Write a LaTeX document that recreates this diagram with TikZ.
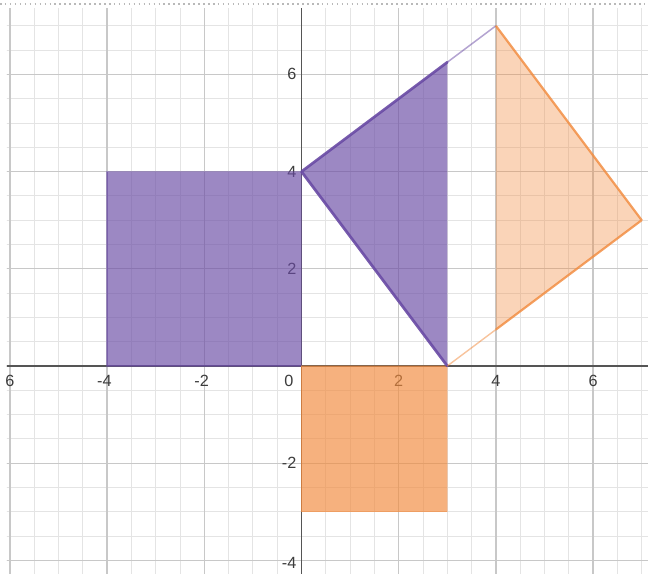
\documentclass[tikz,border=0pt]{standalone}
\usepackage{fontspec}
\setmainfont{Liberation Sans}
\definecolor{gminor}{RGB}{228,228,228}
\definecolor{gmajor}{RGB}{200,200,200}
\definecolor{axisc}{RGB}{85,85,85}
\definecolor{purp}{RGB}{106,75,165}
\definecolor{oran}{RGB}{242,138,60}
\definecolor{labc}{RGB}{60,60,60}
\begin{document}
\begin{tikzpicture}[x=1cm,y=1cm,
  lab/.style={font=\fontsize{9.5}{10}\selectfont, text=labc, inner sep=0pt},
  xlab/.style={lab, anchor=center},
  ylab/.style={lab, anchor=east},
  purpfill/.style={fill=purp, fill opacity=0.66},
  oranfill/.style={fill=oran, fill opacity=0.66},
  oranlight/.style={fill=oran, fill opacity=0.36},
  edgethick/.style={line width=1.6pt, line join=round, line cap=round}]
\useasboundingbox (-6.204,-4.280) rectangle (7.130,7.531);
\fill[white] (-6.204,-4.280) rectangle (7.130,7.531);
\draw[gray!55, dotted, line width=0.9pt] (-6.204,7.45) -- (7.130,7.45);
\begin{scope}
  \clip (-6.06,-4.28) rectangle (7.13,7.366);
  % grid
  \draw[gminor, line width=0.55pt, step=0.5] (-6.5,-4.5) grid (7.5,7.5);
  \draw[gmajor, line width=0.8pt, step=2] (-6.5,-4.5) grid (7.5,7.5);
  % axes
  \draw[axisc, line width=1pt] (-6.5,0) -- (7.5,0);
  \draw[axisc, line width=1pt] (0,-4.5) -- (0,7.5);
  % axis labels
  \node[xlab] (xm6) at (-6,-0.31) {\llap{-}6};
  \node[xlab] (xm4) at (-4,-0.31) {\llap{-}4};
  \node[xlab] (xm2) at (-2,-0.31) {\llap{-}2};
  \node[xlab] (x0) at (-0.26,-0.31) {0};
  \node[xlab] (x2) at (2,-0.31) {2};
  \node[xlab] (x4) at (4,-0.31) {4};
  \node[xlab] (x6) at (6,-0.31) {6};
  \node[ylab] (y6) at (-0.1,6) {6};
  \node[ylab] (y4) at (-0.1,4) {4};
  \node[ylab] (y2) at (-0.1,2) {2};
  \node[ylab] (ym2) at (-0.1,-2) {-2};
  \node[ylab] (ym4) at (-0.1,-4.05) {-4};
  % vertices
  \coordinate (A) at (0,4);
  \coordinate (B) at (3,0);
  \coordinate (C) at (7,3);
  \coordinate (D) at (4,7);
  \coordinate (P) at (3,6.25);
  \coordinate (Q) at (4,0.75);
  \coordinate (O) at (0,0);
  % fills
  \path[purpfill, draw=purp, draw opacity=0.5, line width=0.8pt] (-4,0) rectangle (0,4);
  \path[oranfill, draw=oran, draw opacity=0.3, line width=0.6pt] (O) rectangle (3,-3);
  \path[purpfill] (A) -- (B) -- (P) -- cycle;
  \path[oranlight] (D) -- (C) -- (Q) -- cycle;
  % edges
  \draw[purp, edgethick, opacity=0.9] (P) -- (A) -- (B);
  \draw[purp, line width=0.9pt, opacity=0.5] (P) -- (D);
  \draw[oran, line width=1.3pt, opacity=0.8, line join=round] (D) -- (C) -- (Q);
  \draw[oran, line width=0.8pt, opacity=0.5] (Q) -- (B);
\end{scope}
\end{tikzpicture}
\end{document}
